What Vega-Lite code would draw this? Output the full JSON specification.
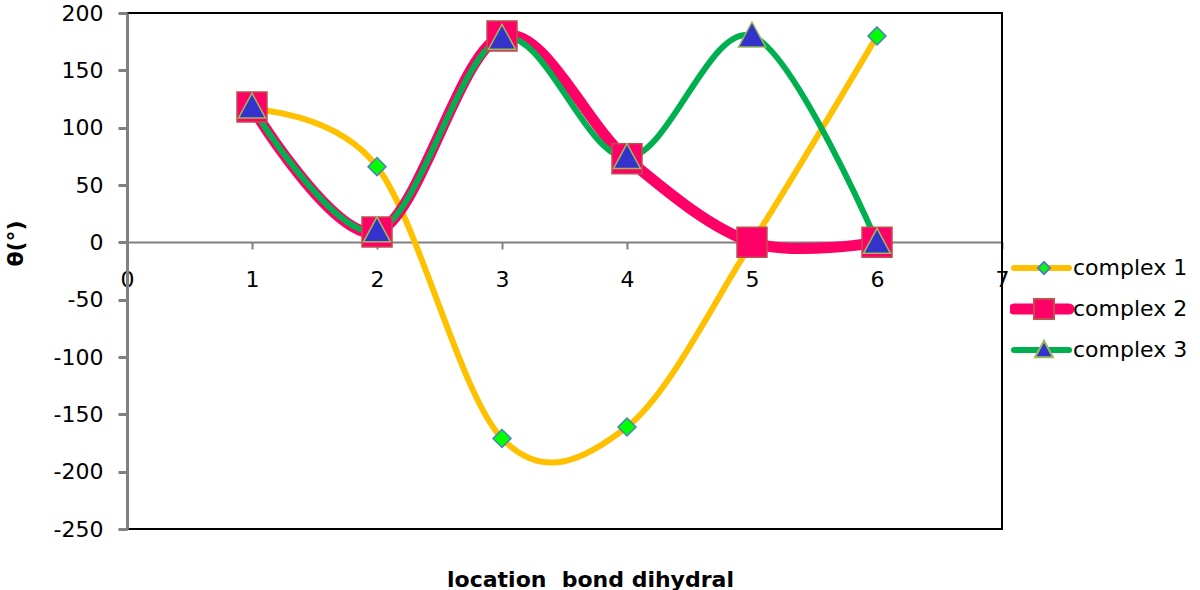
{
  "$schema": "https://vega.github.io/schema/vega-lite/v6.json",
  "width": 875,
  "height": 516,
  "autosize": {"type": "none"},
  "padding": {"left": 127, "top": 13, "right": 198, "bottom": 61},
  "background": "white",
  "config": {"view": {"stroke": null}, "font": "DejaVu Sans"},
  "data": {
    "values": [
      {"x": 1, "y": 116, "series": "complex 1", "marker": "complex 1"},
      {"x": 2, "y": 66, "series": "complex 1", "marker": "complex 1"},
      {"x": 3, "y": -171, "series": "complex 1", "marker": "complex 1"},
      {"x": 4, "y": -161, "series": "complex 1", "marker": "complex 1"},
      {"x": 5, "y": 0, "series": "complex 1", "marker": "complex 1"},
      {"x": 6, "y": 180, "series": "complex 1", "marker": "complex 1"},
      {"x": 1, "y": 118, "series": "complex 2", "marker": "complex 2"},
      {"x": 2, "y": 9, "series": "complex 2", "marker": "complex 2"},
      {"x": 3, "y": 180, "series": "complex 2", "marker": "complex 2"},
      {"x": 4, "y": 73, "series": "complex 2", "marker": "complex 2"},
      {"x": 5, "y": 0, "series": "complex 2", "marker": "complex 2"},
      {"x": 6, "y": 0, "series": "complex 2", "marker": "complex 2"},
      {"x": 1, "y": 118, "series": "complex 3", "marker": "complex 3"},
      {"x": 2, "y": 10, "series": "complex 3", "marker": "complex 3"},
      {"x": 3, "y": 178, "series": "complex 3", "marker": "complex 3"},
      {"x": 4, "y": 74, "series": "complex 3", "marker": "complex 3"},
      {"x": 5, "y": 180, "series": "complex 3", "marker": "complex 3"},
      {"x": 6, "y": 0, "series": "complex 3", "marker": "complex 3"}
    ]
  },
  "encoding": {
    "x": {
      "field": "x", "type": "quantitative",
      "scale": {"domain": [0, 7], "nice": false, "zero": false},
      "axis": {
        "title": "location\u00a0 bond dihydral",
        "values": [0, 1, 2, 3, 4, 5, 6, 7],
        "offset": -287,
        "domainColor": "#808080", "domainWidth": 2,
        "tickColor": "#808080", "tickWidth": 2, "tickSize": 7,
        "labelFont": "DejaVu Sans", "labelFontSize": 22, "labelColor": "#000000",
        "labelPadding": 20, "labelFlush": false, "labelOverlap": false, "labelBound": false,
        "grid": false,
        "titleFont": "DejaVu Sans", "titleFontSize": 22, "titleFontWeight": "bold", "titleColor": "#000000",
        "titleX": 463, "titleY": 344, "titleBaseline": "alphabetic", "titleAlign": "center"
      }
    },
    "y": {
      "field": "y", "type": "quantitative",
      "scale": {"domain": [-250, 200], "nice": false, "zero": false},
      "axis": {
        "title": "θ(°)",
        "values": [-250, -200, -150, -100, -50, 0, 50, 100, 150, 200],
        "labelExpr": "replace(datum.label, '\u2212', '-')",
        "domainColor": "#808080", "domainWidth": 3,
        "tickColor": "#808080", "tickWidth": 3, "tickSize": 9,
        "labelFont": "DejaVu Sans", "labelFontSize": 22, "labelColor": "#000000",
        "labelPadding": 15, "labelFlush": false, "labelOverlap": false, "labelBound": false,
        "grid": false,
        "titleFont": "DejaVu Sans", "titleFontSize": 22, "titleFontWeight": "bold", "titleColor": "#000000",
        "titleX": -112, "titleY": 230, "titleBaseline": "middle", "titleAlign": "center", "titleAngle": 270,
        "zindex": 1
      }
    }
  },
  "layer": [
    {
      "data": {"values": [{"x": 0, "x2": 7, "y": -250, "y2": 200}]},
      "mark": {"type": "rect", "fill": "transparent", "stroke": "#000000", "strokeWidth": 2},
      "encoding": {
        "x2": {"field": "x2"},
        "y2": {"field": "y2"}
      }
    },
    {
      "mark": {"type": "line", "interpolate": "cardinal", "strokeCap": "round", "strokeJoin": "round"},
      "encoding": {
        "color": {
          "field": "series", "type": "nominal",
          "scale": {"range": ["#FFC000", "#FF0066", "#00B050"]},
          "legend": {
            "orient": "none", "legendX": 883, "legendY": 242,
            "title": null, "padding": 0,
            "symbolType": "M-0.7,0H4.8", "symbolSize": 400, "symbolStrokeWidth": 2,
            "clipHeight": 26,
            "labelFont": "DejaVu Sans", "labelFontSize": 22, "labelColor": "#000000",
            "labelOffset": 41, "rowPadding": 15,
            "encode": {
              "symbols": {
                "update": {
                  "strokeWidth": {"signal": "datum.value === 'complex 2' ? 11 : 6"},
                  "strokeCap": {"value": "round"}
                }
              }
            }
          }
        },
        "strokeWidth": {
          "field": "series", "type": "nominal",
          "scale": {"type": "ordinal", "domain": ["complex 3", "complex 2", "complex 1"], "range": [6, 11, 6]},
          "legend": null
        }
      }
    },
    {
      "mark": {"type": "point", "filled": true, "opacity": 1, "strokeWidth": 1.5, "size": 900},
      "encoding": {
        "shape": {
          "field": "marker", "type": "nominal",
          "scale": {
            "domain": ["complex 1", "complex 2", "complex 3"],
            "range": ["M0,-0.6L0.6,0L0,0.6L-0.6,0Z", "M-1,-1H1V1H-1Z", "M0,-0.93L0.9,0.73L-0.9,0.73Z"]
          },
          "legend": {
            "orient": "none", "legendX": 906, "legendY": 242,
            "title": null, "padding": 0, "zindex": 1,
            "symbolSize": 400, "symbolStrokeWidth": 2,
            "clipHeight": 26,
            "labelFont": "DejaVu Sans", "labelFontSize": 22, "labelColor": "#000000",
            "labelExpr": "''",
            "labelOffset": 21, "rowPadding": 15,
            "encode": {
              "symbols": {
                "update": {
                  "strokeWidth": {"value": 1.5},
                  "size": {"signal": "datum.value === 'complex 1' ? 900 : 324"}
                }
              }
            }
          }
        },
        "fill": {
          "field": "marker", "type": "nominal",
          "scale": {"domain": ["complex 1", "complex 2", "complex 3"], "range": ["#00FF00", "#FF0066", "#3333CC"]}
        },
        "stroke": {
          "field": "marker", "type": "nominal",
          "scale": {"domain": ["complex 1", "complex 2", "complex 3"], "range": ["#4F81BD", "#C0504D", "#9BBB59"]}
        }
      }
    }
  ]
}
